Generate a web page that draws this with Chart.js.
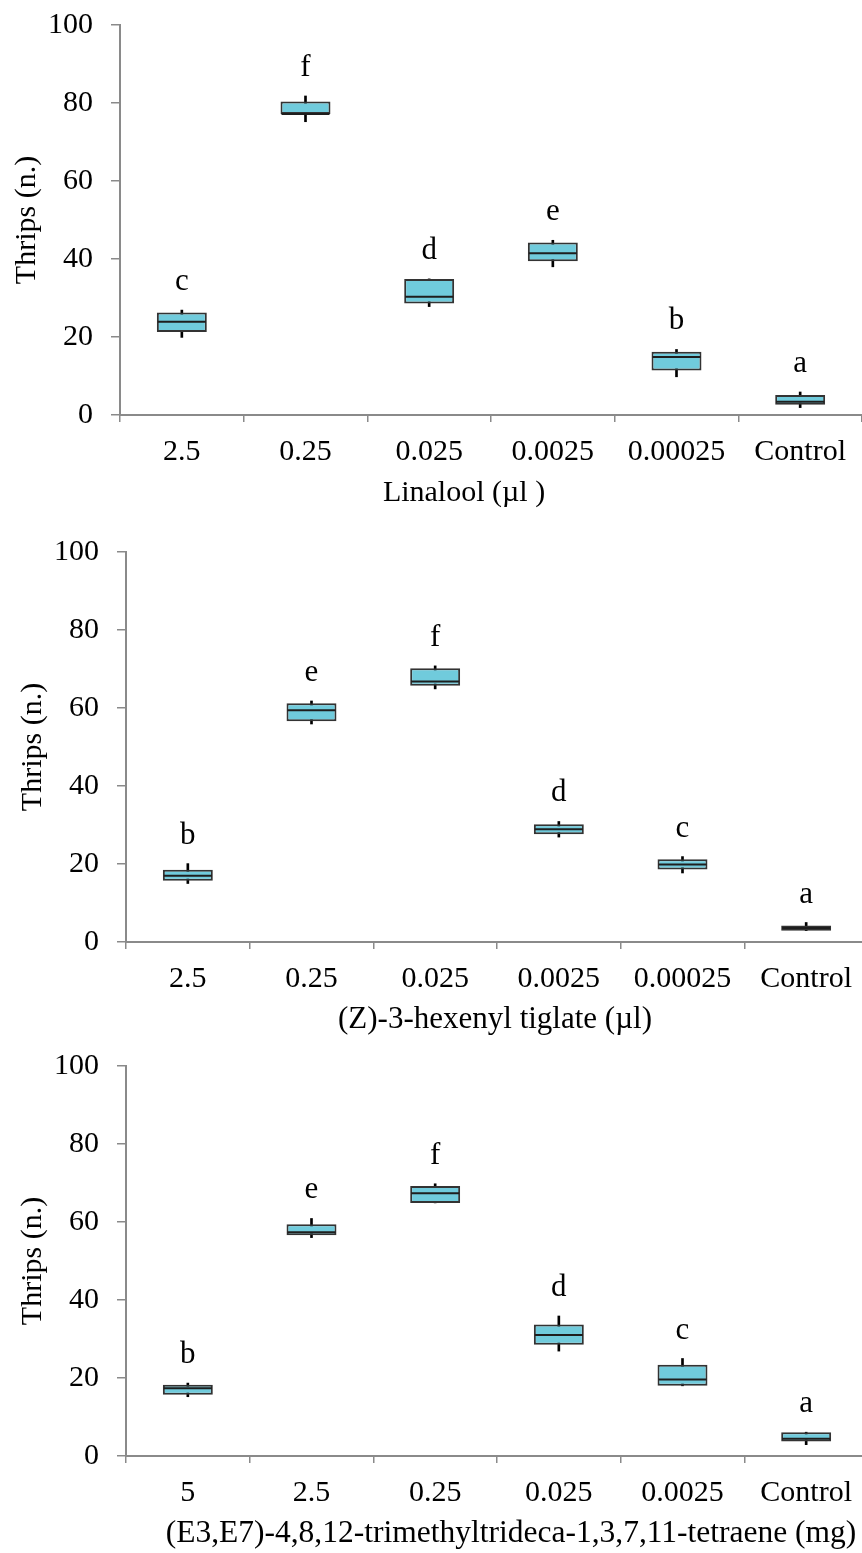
<!DOCTYPE html>
<html>
<head>
<meta charset="utf-8">
<script src="https://cdn.jsdelivr.net/npm/chart.js@4.4.1/dist/chart.umd.min.js"></script>
<style>
    html, body { margin: 0; padding: 0; background: #fff; overflow: hidden; }
    body { width: 862px; height: 1553px; position: relative; }
    canvas { position: absolute; left: 0; }
</style>
</head>
<body>
<canvas id="linaloolChart" width="862" height="526" style="top:-11px"></canvas>
<canvas id="hexenylChart" width="868" height="529" style="top:516px"></canvas>
<canvas id="tmttChart" width="868" height="523" style="top:1030px"></canvas>

<script>
// Linalool
const linaloolDoses = ['2.5', '0.25', '0.025', '0.0025', '0.00025', 'Control'];
const linaloolMin = [19.9, 75.2, 27.8, 38.0, 9.8, 1.9];
const linaloolQ1 = [21.3, 77.2, 28.6, 39.4, 11.4, 2.6];
const linaloolMedian = [23.9, 77.2, 30.3, 41.5, 14.9, 3.4];
const linaloolQ3 = [26.3, 80.4, 34.9, 44.2, 16.2, 5.1];
const linaloolMax = [26.9, 81.8, 34.9, 44.8, 16.8, 5.9];
const linaloolLetters = ['c', 'f', 'd', 'e', 'b', 'a'];

// (Z)-3-hexenyl tiglate
const hexenylDoses = ['2.5', '0.25', '0.025', '0.0025', '0.00025', 'Control'];
const hexenylMin = [15.0, 55.9, 64.9, 26.9, 17.7, 2.9];
const hexenylQ1 = [15.7, 56.6, 65.7, 27.6, 18.6, 2.9];
const hexenylMedian = [17.0, 59.4, 66.8, 28.9, 19.9, 3.6];
const hexenylQ3 = [18.5, 61.2, 70.2, 30.2, 21.2, 4.2];
const hexenylMax = [20.1, 61.8, 70.8, 30.9, 21.9, 5.0];
const hexenylLetters = ['b', 'e', 'f', 'd', 'c', 'a'];

// TMTT
const tmttDoses = ['5', '2.5', '0.25', '0.025', '0.0025', 'Control'];
const tmttMin = [15.2, 56.0, 64.9, 26.9, 18.0, 2.9];
const tmttQ1 = [15.7, 56.6, 64.9, 28.5, 18.0, 3.7];
const tmttMedian = [17.4, 57.4, 67.4, 31.0, 19.6, 4.4];
const tmttQ3 = [18.3, 59.4, 69.2, 33.7, 23.4, 6.1];
const tmttMax = [18.7, 60.9, 69.8, 35.9, 25.0, 6.1];
const tmttLetters = ['b', 'e', 'f', 'd', 'c', 'a'];

const yTicks = [0, 20, 40, 60, 80, 100];

const FONT = "'Liberation Serif', 'Times New Roman', serif";
const BOX_FILL = '#70cbdc';
const AXIS_GREY = '#8a8a8a';

// medians, significance letters and the x title (not centred on the plot in the original)
const boxExtras = {
    id: 'boxExtras',
    afterDatasetsDraw(chart, args, opts) {
        const ctx = chart.ctx;
        const y = chart.scales.y;
        const meta = chart.getDatasetMeta(1);
        ctx.save();
        meta.data.forEach((bar, i) => {
            const half = bar.width / 2;
            const ym = y.getPixelForValue(opts.medians[i]);
            ctx.strokeStyle = '#1e1e1e';
            ctx.lineWidth = 2;
            ctx.beginPath();
            ctx.moveTo(bar.x - half + 1, ym);
            ctx.lineTo(bar.x + half - 1, ym);
            ctx.stroke();

            ctx.fillStyle = '#000';
            ctx.font = '31px ' + FONT;
            ctx.textAlign = 'center';
            ctx.textBaseline = 'alphabetic';
            ctx.fillText(opts.letters[i], bar.x, y.getPixelForValue(opts.maxs[i]) - 20);
        });
        ctx.restore();
    },
    afterDraw(chart, args, opts) {
        const ctx = chart.ctx;
        const xs = chart.scales.x;
        ctx.save();
        ctx.fillStyle = '#000';
        ctx.font = opts.titleSize + 'px ' + FONT;
        ctx.textAlign = 'center';
        ctx.textBaseline = 'middle';
        ctx.fillText(opts.title, opts.titleX, xs.bottom - opts.titlePad - opts.titleSize * 0.6);
        ctx.restore();
    }
};

function makePanel(id, p) {
    const ctx = document.getElementById(id).getContext('2d');
    new Chart(ctx, {
        type: 'bar',
        data: {
            labels: p.labels,
            datasets: [{
                // whiskers
                data: p.min.map((m, i) => [m, p.max[i]]),
                backgroundColor: '#000',
                borderWidth: 0,
                barThickness: 2,
                grouped: false,
                order: 2
            }, {
                // boxes q1..q3
                data: p.q1.map((q, i) => [q, p.q3[i]]),
                backgroundColor: BOX_FILL,
                borderColor: '#333',
                borderWidth: 2,
                borderSkipped: false,
                barPercentage: 0.404,
                categoryPercentage: 1,
                grouped: false,
                order: 1
            }]
        },
        options: {
            responsive: false,
            animation: false,
            layout: {
                padding: 0
            },
            scales: {
                x: {
                    grid: {
                        offset: true,
                        drawOnChartArea: false,
                        color: AXIS_GREY,
                        lineWidth: 1.5,
                        tickLength: 7
                    },
                    border: { color: AXIS_GREY, width: 2 },
                    ticks: {
                        color: '#000',
                        padding: 12,
                        maxRotation: 0,
                        font: { family: FONT, size: 30 }
                    },
                    afterFit: (scale) => { scale.height = p.xHeight; }
                },
                y: {
                    min: 0,
                    max: 100,
                    afterBuildTicks: (scale) => {
                        scale.ticks = yTicks.map(v => ({ value: v }));
                    },
                    grid: {
                        drawOnChartArea: false,
                        color: AXIS_GREY,
                        lineWidth: 1.5,
                        tickLength: 9
                    },
                    border: { color: AXIS_GREY, width: 2 },
                    ticks: {
                        color: '#000',
                        padding: 18,
                        font: { family: FONT, size: 30 }
                    },
                    title: {
                        display: true,
                        text: 'Thrips (n.)',
                        color: '#000',
                        padding: { top: p.yTitlePad, bottom: 0 },
                        font: { family: FONT, size: 30 }
                    },
                    afterFit: (scale) => { scale.width = p.yWidth; }
                }
            },
            plugins: {
                legend: { display: false },
                tooltip: { enabled: false },
                boxExtras: {
                    medians: p.median,
                    maxs: p.max,
                    letters: p.letters,
                    title: p.title,
                    titleX: p.titleX,
                    titleSize: p.titleSize,
                    titlePad: p.titlePad
                }
            }
        },
        plugins: [boxExtras]
    });
}

makePanel('linaloolChart', {
    labels: linaloolDoses, min: linaloolMin, q1: linaloolQ1, median: linaloolMedian,
    q3: linaloolQ3, max: linaloolMax, letters: linaloolLetters,
    title: 'Linalool (µl )', titleSize: 30, titleX: 464,
    xHeight: 100, titlePad: 4, yWidth: 120, yTitlePad: 9.5
});

makePanel('hexenylChart', {
    labels: hexenylDoses, min: hexenylMin, q1: hexenylQ1, median: hexenylMedian,
    q3: hexenylQ3, max: hexenylMax, letters: hexenylLetters,
    title: '(Z)-3-hexenyl tiglate (µl)', titleSize: 31, titleX: 495,
    xHeight: 103, titlePad: 6.4, yWidth: 126, yTitlePad: 15.5
});

makePanel('tmttChart', {
    labels: tmttDoses, min: tmttMin, q1: tmttQ1, median: tmttMedian,
    q3: tmttQ3, max: tmttMax, letters: tmttLetters,
    title: '(E3,E7)-4,8,12-trimethyltrideca-1,3,7,11-tetraene (mg)', titleSize: 31.5, titleX: 511,
    xHeight: 97, titlePad: 0, yWidth: 126, yTitlePad: 15.5
});
</script>
</body>
</html>
